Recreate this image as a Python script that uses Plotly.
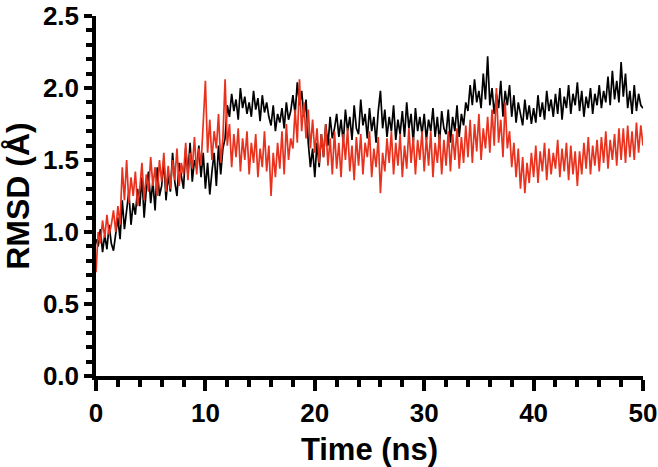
import plotly.graph_objects as go

step = 0.2
black_rmsd = [
    0.95, 0.90, 1.02, 0.86, 0.98, 0.88, 1.05, 0.92, 0.87, 1.00,
    1.10, 0.95, 1.22, 1.02, 1.15, 1.28, 1.05, 1.20, 1.12, 1.30,
    1.18, 1.38, 1.10, 1.30, 1.42, 1.20, 1.35, 1.15, 1.45, 1.25,
    1.32, 1.50, 1.22, 1.40, 1.28, 1.55, 1.35, 1.25, 1.48, 1.38,
    1.30, 1.58, 1.40, 1.62, 1.35, 1.50, 1.44, 1.60, 1.38, 1.55,
    1.30, 1.48, 1.26, 1.42, 1.55, 1.32, 1.60, 1.40, 1.58, 1.65,
    1.88, 1.80, 1.96, 1.84, 1.92, 1.78, 2.00, 1.86, 1.94, 1.82,
    1.90, 1.80, 1.98, 1.85, 1.93, 1.77, 1.95, 1.83, 1.90, 1.80,
    1.74, 1.88, 1.70, 1.82, 1.76, 1.86, 1.72, 1.90, 1.78, 1.84,
    1.95, 1.82, 2.04, 1.88, 1.98, 1.80, 1.92, 1.62, 1.45, 1.58,
    1.38, 1.62, 1.45, 1.68, 1.52, 1.75, 1.60, 1.80, 1.65, 1.72,
    1.82, 1.66, 1.78, 1.62, 1.85, 1.70, 1.80, 1.64, 1.88, 1.72,
    1.68, 1.92, 1.74, 1.82, 1.65, 1.86, 1.70, 1.80, 1.62, 1.84,
    1.98, 1.72, 1.85, 1.66, 1.80, 1.70, 1.88, 1.64, 1.78, 1.68,
    1.84, 1.66, 1.90, 1.72, 1.82, 1.62, 1.86, 1.70, 1.80, 1.68,
    1.82, 1.64, 1.78, 1.70, 1.86, 1.66, 1.80, 1.62, 1.84, 1.72,
    1.68, 1.85, 1.62, 1.80, 1.70, 1.88, 1.66, 1.82, 1.74, 1.90,
    1.84, 2.02, 1.88, 2.06, 1.90, 1.98, 1.86, 2.10, 1.92, 2.22,
    1.88, 2.00, 1.82, 1.96, 1.86, 2.05, 1.80, 1.98, 1.88, 2.02,
    1.80, 1.95, 1.76, 1.90, 1.82, 1.74, 1.92, 1.78, 1.88, 1.75,
    1.86, 1.76, 1.95, 1.80, 1.90, 1.78, 1.98, 1.84, 1.92, 1.80,
    1.96, 1.82, 2.00, 1.78, 1.94, 1.86, 2.02, 1.82, 1.96, 1.88,
    2.04, 1.84, 1.98, 1.80, 1.94, 1.86, 2.00, 1.82, 1.96, 1.88,
    2.02, 1.86, 1.98, 1.90, 2.08, 1.88, 2.12, 1.92, 2.05, 1.90,
    2.18, 1.94, 2.10, 1.86, 1.98, 1.82, 2.02, 1.84, 1.96, 1.88,
    1.86,
]
red_rmsd = [
    0.72, 1.00, 0.92, 1.08, 0.96, 1.12, 0.98, 1.05, 1.15, 1.00,
    1.18, 1.05, 1.45, 1.22, 1.50, 1.20, 1.38, 1.25, 1.42, 1.18,
    1.30, 1.48, 1.22, 1.40, 1.28, 1.52, 1.32, 1.45, 1.25, 1.50,
    1.35, 1.55, 1.28, 1.46, 1.30, 1.50, 1.36, 1.58, 1.32, 1.48,
    1.40, 1.62, 1.36, 1.55, 1.44, 1.66, 1.40, 1.58, 1.46, 1.72,
    2.05, 1.55, 1.78, 1.50, 1.70, 1.58, 1.82, 1.48, 1.65, 2.06,
    1.60, 1.75, 1.45, 1.68, 1.52, 1.72, 1.42, 1.65, 1.50, 1.70,
    1.40, 1.62, 1.48, 1.68, 1.38, 1.58, 1.45, 1.70, 1.42, 1.60,
    1.25, 1.55, 1.38, 1.62, 1.44, 1.70, 1.40, 1.75, 1.50, 1.65,
    1.58, 1.85, 1.62, 2.06, 1.70, 1.90, 1.65, 1.85, 1.58, 1.78,
    1.55, 1.72, 1.48, 1.68, 1.52, 1.75, 1.46, 1.65, 1.40, 1.70,
    1.44, 1.62, 1.38, 1.68, 1.50, 1.72, 1.42, 1.60, 1.36, 1.66,
    1.46, 1.68, 1.40, 1.62, 1.52, 1.70, 1.38, 1.58, 1.45, 1.66,
    1.27, 1.55, 1.42, 1.65, 1.48, 1.70, 1.40, 1.62, 1.46, 1.68,
    1.38, 1.60, 1.44, 1.72, 1.48, 1.66, 1.40, 1.64, 1.50, 1.70,
    1.42, 1.66, 1.46, 1.70, 1.38, 1.62, 1.48, 1.68, 1.40, 1.64,
    1.46, 1.70, 1.42, 1.68, 1.50, 1.72, 1.44, 1.66, 1.48, 1.74,
    1.52, 1.78, 1.48, 1.75, 1.56, 1.82, 1.50, 1.72, 1.58, 1.80,
    1.55, 1.85, 1.60, 2.00, 1.62, 1.78, 1.52, 1.90, 1.58, 1.70,
    1.45, 1.62, 1.38, 1.58, 1.30, 1.52, 1.27, 1.48, 1.34, 1.55,
    1.38, 1.60, 1.34, 1.56, 1.42, 1.62, 1.36, 1.58, 1.40, 1.55,
    1.44, 1.64, 1.38, 1.58, 1.42, 1.62, 1.36, 1.60, 1.40, 1.56,
    1.32, 1.56, 1.40, 1.62, 1.44, 1.66, 1.40, 1.60, 1.46, 1.64,
    1.42, 1.66, 1.48, 1.70, 1.44, 1.64, 1.50, 1.68, 1.46, 1.72,
    1.50, 1.72, 1.48, 1.74, 1.52, 1.70, 1.50, 1.76, 1.55, 1.74,
    1.60,
]
time_ns = [round(i * step, 2) for i in range(len(black_rmsd))]

x_ticks = [0, 10, 20, 30, 40, 50]
y_ticks = [0.0, 0.5, 1.0, 1.5, 2.0, 2.5]

FONT = "Liberation Sans, Arial, Helvetica, sans-serif"

fig = go.Figure()
fig.add_trace(go.Scatter(x=time_ns, y=black_rmsd, mode="lines",
                         line=dict(color="black", width=1.7), showlegend=False))
fig.add_trace(go.Scatter(x=time_ns, y=red_rmsd, mode="lines",
                         line=dict(color="#e8321e", width=1.7), showlegend=False))

axis_common = dict(showline=True, linewidth=3.5, linecolor="black", ticks="outside",
                   tickwidth=3.5, tickcolor="black", showgrid=False, zeroline=False,
                   automargin=False,
                   tickfont=dict(family=FONT, size=26, color="black", weight="bold"))

fig.update_xaxes(range=[0, 50], tickvals=x_ticks, ticklen=11,
                 minor=dict(dtick=2, ticks="outside", ticklen=7, tickwidth=3.5, tickcolor="black"),
                 title=dict(text="Time (ns)", font=dict(family=FONT, size=31, color="black", weight="bold"),
                            standoff=14),
                 **axis_common)
fig.update_yaxes(range=[0, 2.5], tickvals=y_ticks, tickformat=".1f", ticklen=8,
                 minor=dict(dtick=0.1, ticks="outside", ticklen=6, tickwidth=3.5, tickcolor="black"),
                 title=dict(text="RMSD (Å)", font=dict(family=FONT, size=32, color="black", weight="bold"),
                            standoff=8),
                 **axis_common)

fig.update_layout(width=658, height=467, plot_bgcolor="white", paper_bgcolor="white",
                  margin=dict(l=96, r=15, t=16, b=91))

fig.write_html("out.html", config={"displayModeBar": False},
               post_script="document.body.style.margin='0';")
